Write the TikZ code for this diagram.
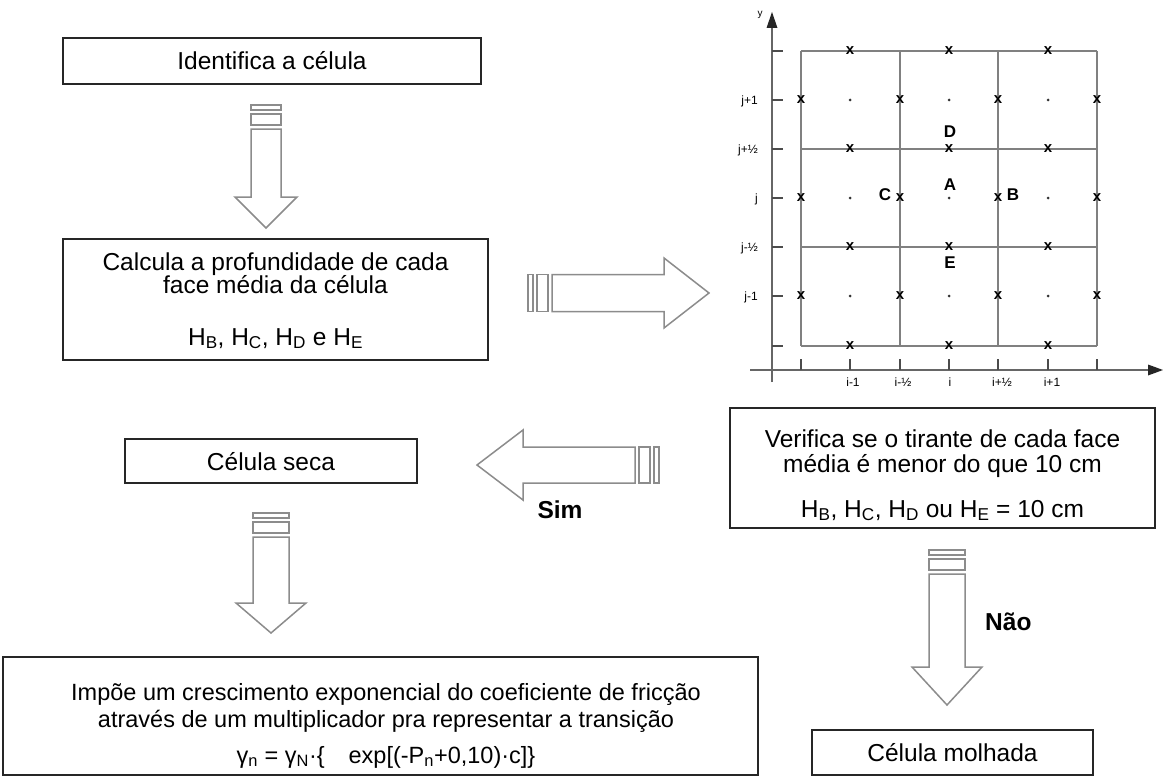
\documentclass[tikz,border=0pt]{standalone}
\usepackage{fontspec}
\setmainfont{Liberation Sans}
\begin{document}
\begin{tikzpicture}[x=1pt,y=-1pt,
  box/.style={draw=black!85, line width=2.2pt, inner sep=0pt},
  txt/.style={font=\fontsize{24.5}{26}\selectfont, anchor=base, inner sep=0pt},
  arrowline/.style={draw=black!45, line width=1.5pt, fill=white, line join=miter},
  gridline/.style={draw=black!50, line width=1.4pt},
  axisline/.style={draw=black!60, line width=2.6pt},
  tickline/.style={draw=black!70, line width=2pt},
  xm/.style={font=\fontsize{15}{15}\bfseries\selectfont, inner sep=0pt},
  lbl/.style={font=\fontsize{17}{17}\bfseries\selectfont, inner sep=0pt},
  bigbold/.style={font=\fontsize{24.5}{26}\bfseries\selectfont, inner sep=0pt},
  axlbl/.style={font=\fontsize{12}{12}\selectfont, inner sep=0pt},
  pics/barrow/.style n args={4}{code={
    \draw[arrowline] (0,-#3) rectangle (5,#3);
    \draw[arrowline] (9,-#3) rectangle (20,#3);
    \draw[arrowline] (24,-#3) -- ({#1-#2},-#3) -- ({#1-#2},-#4) -- (#1,0)
       -- ({#1-#2},#4) -- ({#1-#2},#3) -- (24,#3) -- cycle;
  }}
]
\fill[white] (0,0) rectangle (1163,776);
\useasboundingbox (0,0) rectangle (1163,776);

% ---------- boxes ----------
\node[box, minimum width=418pt, minimum height=46pt] (ident) at (272,61) {};
\node[txt] (identT) at (272,70) {Identifica a célula};

\node[box, minimum width=425pt, minimum height=121pt] (calc) at (275.5,299.5) {};
\node[txt] (calcA) at (275.5,270) {Calcula a profundidade de cada};
\node[txt] (calcB) at (275.5,293) {face média da célula};
\node[txt] (calcC) at (275.5,345) {H\textsubscript{B}, H\textsubscript{C}, H\textsubscript{D} e H\textsubscript{E}};

\node[box, minimum width=292pt, minimum height=44pt] (seca) at (271,461) {};
\node[txt] (secaT) at (271,470) {Célula seca};

\node[box, minimum width=425pt, minimum height=120pt] (verif) at (942.5,468) {};
\node[txt] (verA) at (942.5,447) {Verifica se o tirante de cada face};
\node[txt] (verB) at (942.5,472) {média é menor do que 10 cm};
\node[txt] (verC) at (942.5,517) {H\textsubscript{B}, H\textsubscript{C}, H\textsubscript{D} ou H\textsubscript{E} = 10 cm};

\node[box, minimum width=281pt, minimum height=45pt] (molh) at (952.5,752.5) {};
\node[txt] (molhT) at (952.5,761) {Célula molhada};

\node[box, minimum width=755pt, minimum height=118pt] (impoe) at (380.5,716) {};
\node[txt, font=\fontsize{23.5}{25}\selectfont] (impA) at (386,700) {Impõe um crescimento exponencial do coeficiente de fricção};
\node[txt, font=\fontsize{23.5}{25}\selectfont] (impB) at (386,727) {através de um multiplicador pra representar a transição};
\node[txt, font=\fontsize{23.5}{25}\selectfont] (impC) at (386,763) {γ\textsubscript{n} = γ\textsubscript{N}·\{\hspace{24pt}exp[(-P\textsubscript{n}+0,10)·c]\}};

\node[bigbold, anchor=base] (sim) at (560,518) {Sim};
\node[bigbold, anchor=base west] (nao) at (985,630) {Não};

% ---------- block arrows ----------
\pic[rotate=-90] at (266,105) {barrow={123}{31}{15}{31}};
\pic at (528,293) {barrow={181}{45}{18.5}{35}};
\pic[rotate=180] at (659,465) {barrow={182}{46}{18}{35}};
\pic[rotate=-90] at (271,513) {barrow={120}{30}{18}{35}};
\pic[rotate=-90] at (947,550) {barrow={155}{38}{18}{35}};

% ---------- grid ----------
\foreach \x in {801,900,998,1097} \draw[gridline] (\x,51) -- (\x,346);
\foreach \y in {51,149,247,346} \draw[gridline] (801,\y) -- (1097,\y);
\foreach \x in {850,949,1048} \foreach \y in {51,149,247,346} \node[xm] at (\x,\y) {x};
\foreach \x in {801,900,998,1097} \foreach \y in {100,198,296} \node[xm] at (\x,\y) {x};
\foreach \x in {850,949,1048} \foreach \y in {100,198,296} \fill[black!80] (\x,\y) circle (1.5);

% axes
\draw[axisline] (772,382) -- (772,24);
\fill[black!85] (772,12) -- (766.5,28) -- (777.5,28) -- cycle;
\node[axlbl, font=\fontsize{10}{10}\selectfont] (ylab) at (760,15) {y};
\draw[axisline] (750,370) -- (1150,370);
\fill[black!85] (1163,370) -- (1148,364.5) -- (1148,375.5) -- cycle;
\foreach \y in {51,100,149,198,247,296,346} \draw[tickline] (772,\y) -- (783,\y);
\foreach \x in {801,850,900,949,998,1048,1097} \draw[tickline] (\x,370) -- (\x,359);

\node[axlbl, anchor=east] at (758,101) {j+1};
\node[axlbl, anchor=east] at (758,150) {j+½};
\node[axlbl, anchor=east] at (758,199) {j};
\node[axlbl, anchor=east] at (758,248) {j-½};
\node[axlbl, anchor=east] at (758,297) {j-1};

\node[axlbl] at (853,382) {i-1};
\node[axlbl] at (903,382) {i-½};
\node[axlbl] at (950,382) {i};
\node[axlbl] at (1002,382) {i+½};
\node[axlbl] at (1052,382) {i+1};

% letters
\node[lbl] at (950,132) {D};
\node[lbl] at (950,185) {A};
\node[lbl] at (885,195) {C};
\node[lbl] at (1013,195) {B};
\node[lbl] at (950,263) {E};
\end{tikzpicture}
\end{document}
